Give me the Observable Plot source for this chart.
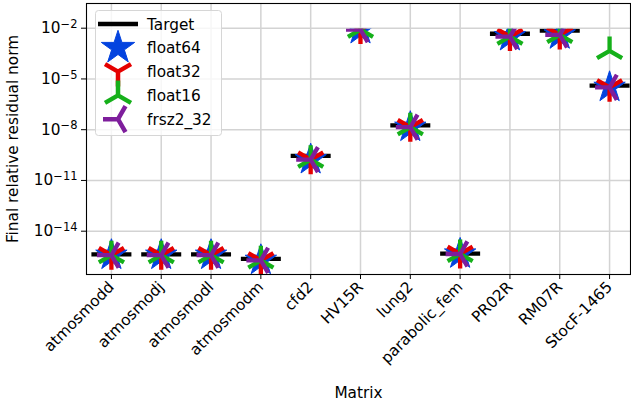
<!DOCTYPE html>
<html>
<head>
<meta charset="utf-8">
<script src="https://cdn.jsdelivr.net/npm/d3@7"></script>
<script src="https://cdn.jsdelivr.net/npm/@observablehq/plot@0.6"></script>
<style>
  html, body { margin: 0; padding: 0; background: #fff; }
  #chart { position: relative; width: 631px; height: 406px; }
</style>
</head>
<body>
<div id="chart"></div>
<script>
// ---- data ----
const matrices = ["atmosmodd", "atmosmodj", "atmosmodl", "atmosmodm", "cfd2", "HV15R", "lung2", "parabolic_fem", "PR02R", "RM07R", "StocF-1465"];
const target   = [4.3e-16, 4.3e-16, 4.3e-16, 2.3e-16, 2.8e-10, 1.4e-2, 1.8e-8, 4.7e-16, 4.7e-3, 7.2e-3, 4.0e-6];
const float64  = [3.8e-16, 3.8e-16, 3.8e-16, 1.9e-16, 1.7e-10, 8.3e-3, 1.4e-8, 4.5e-16, 3.2e-3, 4.0e-3, 3.2e-6];
const float32  = [3.8e-16, 3.8e-16, 3.8e-16, 1.9e-16, 1.7e-10, 8.3e-3, 1.4e-8, 4.5e-16, 3.2e-3, 4.0e-3, 3.2e-6];
const float16  = [3.8e-16, 3.8e-16, 3.8e-16, 1.9e-16, 1.7e-10, 8.3e-3, 1.4e-8, 4.5e-16, 3.2e-3, 4.0e-3, 4.5e-4];
const frsz2_32 = [3.8e-16, 3.8e-16, 3.8e-16, 1.9e-16, 1.7e-10, 8.3e-3, 1.4e-8, 4.5e-16, 3.2e-3, 4.0e-3, 3.2e-6];
const seriesNames = ["Target", "float64", "float32", "float16", "frsz2_32"];
const yTickExps = [-2, -5, -8, -11, -14];

// ---- symbols (matplotlib-like markers) ----
const rad = (size) => Math.sqrt(size / Math.PI);
const starSym = {draw(ctx, size) {
  const r = rad(size);
  for (let k = 0; k < 10; k++) {
    const rr = k % 2 ? r * 0.381966 : r;
    const a = -Math.PI / 2 + k * Math.PI / 5;
    const x = rr * Math.cos(a), y = rr * Math.sin(a);
    k ? ctx.lineTo(x, y) : ctx.moveTo(x, y);
  }
  ctx.closePath();
}};
function triSym(tips) {
  return {draw(ctx, size) {
    const r = rad(size);
    for (const [tx, ty] of tips) { ctx.moveTo(0, 0); ctx.lineTo(tx * r, ty * r); }
  }};
}
const s3 = Math.sqrt(3) / 2;
const triDown = triSym([[0, 1], [s3, -0.5], [-s3, -0.5]]);
const triUp = triSym([[0, -1], [s3, 0.5], [-s3, 0.5]]);
const triLeft = triSym([[-1, 0], [0.5, s3], [0.5, -s3]]);
const hline = {draw(ctx, size) { const r = rad(size); ctx.moveTo(-r, 0); ctx.lineTo(r, 0); }};

const styles = {
  Target:   {sym: hline,   color: "#000000", fill: false, r: 20, lr: 20},
  float64:  {sym: starSym, color: "#0343df", fill: true,  r: 16.5, lr: 17.5},
  float32:  {sym: triDown, color: "#e50000", fill: false, r: 14.5, lr: 15},
  float16:  {sym: triUp,   color: "#15b01a", fill: false, r: 14.5, lr: 15},
  frsz2_32: {sym: triLeft, color: "#7e1e9c", fill: false, r: 14.5, lr: 15}
};
const seriesValues = {Target: target, float64, float32, float16, frsz2_32};

const dotMarks = seriesNames.map(name => {
  const st = styles[name];
  const rows = matrices.map((m, i) => ({i, v: seriesValues[name][i]}));
  return Plot.dot(rows, {
    x: "i", y: "v", symbol: st.sym, r: st.r,
    fill: st.fill ? st.color : "none",
    stroke: st.color,
    strokeWidth: st.fill ? 1 : 4.3,
    strokeLinecap: "butt"
  });
});

const FS = "15.3px";
const chart = Plot.plot({
  width: 631, height: 406,
  marginLeft: 86, marginRight: 1, marginTop: 3, marginBottom: 132,
  style: {fontFamily: "'DejaVu Sans', sans-serif", fontSize: FS, color: "black", background: "white"},
  x: {type: "linear", domain: [-0.5, 10.42]},
  y: {type: "log", domain: [Math.pow(10, -16.56), Math.pow(10, -0.54)]},
  marks: [
    Plot.gridX(d3.range(matrices.length), {stroke: "#d3d3d3", strokeOpacity: 1, strokeWidth: 1.5}),
    Plot.gridY(yTickExps.map(e => Math.pow(10, e)), {stroke: "#d3d3d3", strokeOpacity: 1, strokeWidth: 1.5}),
    ...dotMarks,
    Plot.frame({stroke: "black", strokeWidth: 1.1}),
    Plot.axisX(d3.range(matrices.length), {
      tickFormat: i => matrices[i], tickRotate: -45, tickSize: 5, tickPadding: 5,
      label: "Matrix", labelAnchor: "center", labelArrow: "none", labelOffset: 123
    }),
    Plot.axisY(yTickExps.map(e => Math.pow(10, e)), {
      tickFormat: d => "10" + String(Math.round(Math.log10(d))).replace("-", "⁻").replace(/\d/g, c => "⁰¹²³⁴⁵⁶⁷⁸⁹"[+c]),
      tickSize: 5, tickPadding: 4,
      label: "Final relative residual norm", labelAnchor: "center", labelArrow: "none", labelOffset: 79
    })
  ]
});

document.getElementById("chart").appendChild(chart);

// clip the data markers like the reference
const svg = d3.select(chart);
const defs = svg.append("defs");
defs.append("clipPath").attr("id", "dataclip")
  .append("rect").attr("x", 0).attr("y", 28.3).attr("width", 631).attr("height", 400);
svg.selectAll('g[aria-label="dot"]').attr("clip-path", "url(#dataclip)");

// superscript exponents on y tick labels
svg.selectAll('g[aria-label="y-axis tick label"] text').each(function(d, k) {
  const t = d3.select(this);
  const e = yTickExps[k];
  t.text("10");
  t.append("tspan").attr("dy", "-0.45em").attr("font-size", "0.75em").text("−" + Math.abs(e));
});

// legend (inside the axes, upper left)
const lg = svg.append("g").attr("class", "legend").attr("text-anchor", "start");
lg.append("rect").attr("x", 95.5).attr("y", 10.5).attr("width", 126).attr("height", 125)
  .attr("rx", 3).attr("fill", "white").attr("fill-opacity", 0.8).attr("stroke", "#d6d6d6").attr("stroke-width", 1);
seriesNames.forEach((name, k) => {
  const st = styles[name];
  const cy = 24 + k * 23.8;
  lg.append("path")
    .attr("transform", `translate(118,${cy})`)
    .attr("d", d3.symbol().type(st.sym).size(Math.PI * st.lr * st.lr)())
    .attr("fill", st.fill ? st.color : "none")
    .attr("stroke", st.color)
    .attr("stroke-width", st.fill ? 1 : 4.5)
    .attr("stroke-linecap", "butt");
  lg.append("text").attr("x", 147).attr("y", cy).attr("dy", "0.36em")
    .attr("font-size", FS).attr("fill", "black").text(name);
});
</script>
</body>
</html>
